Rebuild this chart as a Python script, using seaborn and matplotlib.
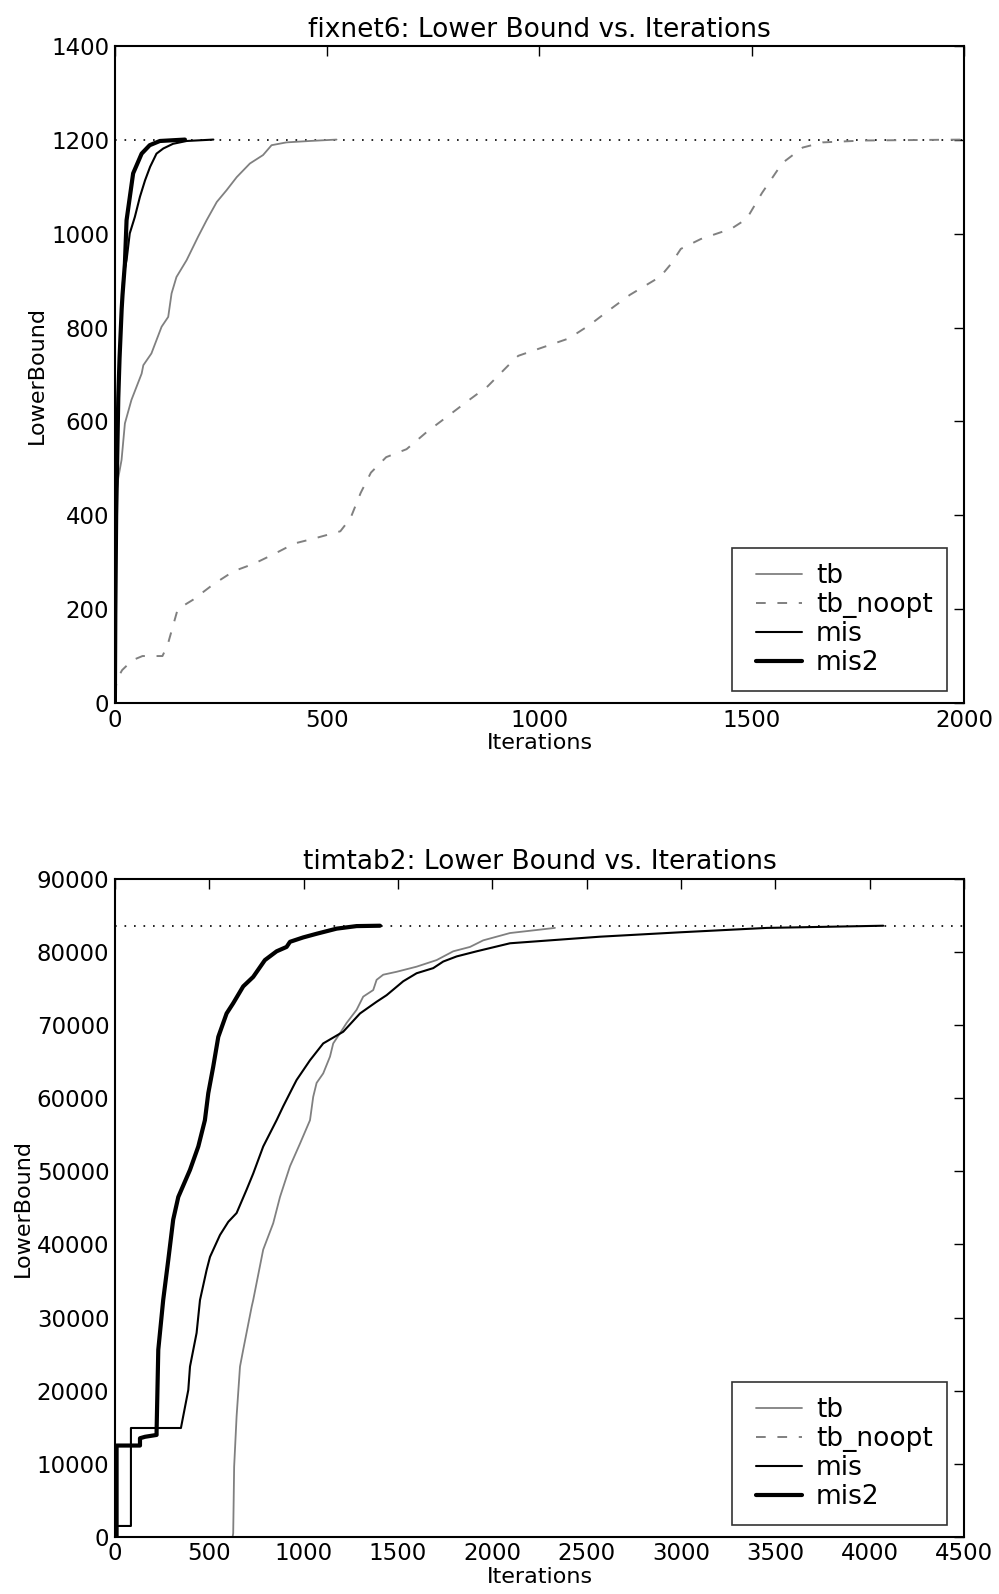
import numpy as np
import pandas as pd
import matplotlib
matplotlib.use("Agg")
import matplotlib.pyplot as plt
from matplotlib.lines import Line2D
from matplotlib.legend_handler import HandlerLine2D
import seaborn as sns

# ---------------- fixnet6 data ----------------
fx_tb_x = [0, 2, 8, 15.7, 23.6, 39, 63, 67, 86, 110, 125.6, 133.5, 145, 169, 196, 216, 240, 263, 287,
           318, 349, 369, 404, 459, 522]
fx_tb_y = [400, 430, 480, 518, 596, 646, 702, 720, 745, 802, 823, 873, 908, 944, 994, 1029, 1068, 1093,
           1121, 1150, 1168, 1189, 1195, 1198, 1201]

fx_noopt_x = [0, 5, 17, 41, 65, 112, 124, 148, 184, 232, 280, 328, 376, 423, 471, 531, 555, 579, 603,
              639, 687, 735, 782, 830, 878, 926, 950, 998, 1069, 1117, 1165, 1213, 1285, 1309, 1333,
              1380, 1452, 1488, 1524, 1572, 1620, 1667, 1763, 2000]
fx_noopt_y = [20, 50, 70, 91, 100, 100, 123, 200, 220, 253, 281, 297, 318, 340, 351, 366, 394, 448, 491,
              524, 541, 578, 610, 643, 675, 719, 740, 755, 777, 805, 838, 870, 909, 935, 968,
              989, 1011, 1032, 1087, 1151, 1184, 1195, 1199, 1201]

fx_mis_x = [0, 1, 3, 5.5, 8, 11, 16, 19.6, 27.5, 35, 47, 59, 71, 83, 98, 114, 137, 169, 232]
fx_mis_y = [0, 190, 400, 525, 650, 735, 840, 908, 944, 1001, 1036, 1079, 1114, 1143, 1171, 1182, 1192,
            1198, 1201]

fx_mis2_x = [0, 1, 3, 5.5, 8, 11, 16, 18, 23.6, 27.5, 43, 63, 82, 106, 165]
fx_mis2_y = [0, 190, 400, 525, 650, 735, 840, 870, 937, 1029, 1129, 1171, 1189, 1198, 1201]

fx_opt = 1200

# ---------------- timtab2 data ----------------
tt_tb_x = [624, 627, 632, 645, 663, 680, 725, 733, 786, 839, 875, 928, 981, 1034, 1051, 1069, 1104,
           1140, 1157, 1193, 1228, 1281, 1316, 1369, 1387, 1422, 1493, 1599, 1705, 1793, 1882, 1952,
           2094, 2332]
tt_tb_y = [0, 500, 9600, 16500, 23300, 25600, 31500, 32400, 39300, 42900, 46500, 50700, 53800, 57000,
           60200, 62100, 63400, 65700, 67500, 68900, 70300, 72100, 73900, 74800, 76200, 76900, 77300,
           78000, 78900, 80100, 80700, 81600, 82600, 83300]

tt_mis_x = [0, 9, 9, 85, 85, 350, 389, 398, 433, 451, 486, 504, 557, 601, 645, 698, 733, 786, 857,
            892, 945, 963, 1034, 1104, 1210, 1299, 1387, 1440, 1528, 1599, 1687, 1740, 1811, 1917,
            2094, 2571, 2995, 3454, 4072]
tt_mis_y = [0, 0, 1500, 1500, 14900, 14900, 20100, 23300, 27900, 32400, 36500, 38300, 41300, 43100,
            44300, 47500, 49700, 53400, 57000, 58900, 61600, 62500, 65200, 67500, 69100, 71600, 73200,
            74100, 76000, 77100, 77800, 78700, 79400, 80100, 81200, 82100, 82700, 83300, 83600]

tt_mis2_x = [0, 9, 9, 133, 133, 160, 221, 221, 230, 256, 283, 309, 336, 398, 442, 477, 495, 521, 548,
             592, 627, 680, 733, 795, 857, 910, 928, 998, 1069, 1175, 1281, 1405]
tt_mis2_y = [0, 0, 12500, 12500, 13500, 13700, 13950, 14500, 25600, 32400, 37900, 43400, 46500, 50200,
             53400, 57000, 60700, 64300, 68400, 71600, 73000, 75300, 76600, 78900, 80100, 80700, 81400,
             82000, 82500, 83200, 83550, 83600]

tt_opt = 83500

titles = ["fixnet6: Lower Bound vs. Iterations", "timtab2: Lower Bound vs. Iterations"]
series_names = ["tb", "tb_noopt", "mis", "mis2"]

sns.set_theme(style="white")
plt.rcParams['font.family'] = ['DejaVu Sans']
plt.rcParams.update({"text.color": "black", "axes.labelcolor": "black",
                     "xtick.color": "black", "ytick.color": "black"})

fig = plt.figure(figsize=(9.99, 15.94), dpi=100)
ax1 = fig.add_axes([0.115, 0.559, 0.85, 0.412])
ax2 = fig.add_axes([0.115, 0.0358, 0.85, 0.4128])

styles = {
    "tb": dict(color="#808080", linestyle="-", linewidth=1.3),
    "tb_noopt": dict(color="#808080", linestyle=(0, (5, 6)), linewidth=1.4),
    "mis": dict(color="black", linestyle="-", linewidth=1.5),
    "mis2": dict(color="black", linestyle="-", linewidth=3.0),
}

def draw(ax, data, opt, xlim, ylim, xticks, yticks, title):
    for name in series_names:
        xs, ys = data[name]
        if xs is None:
            ax.plot([], [], label=name, **styles[name])
            continue
        df = pd.DataFrame({"Iterations": xs, "LowerBound": ys})
        sns.lineplot(data=df, x="Iterations", y="LowerBound", ax=ax, estimator=None,
                     sort=False, label=name, **styles[name])
    ax.axhline(opt, color="black", linestyle=(0, (1, 4.7)), linewidth=1.2, zorder=0)
    ax.set_xlim(*xlim)
    ax.set_ylim(*ylim)
    ax.set_xticks(xticks)
    ax.set_yticks(yticks)
    ax.set_title(title, fontsize=19, pad=7)
    ax.set_xlabel("Iterations", fontsize=16, labelpad=1)
    ax.set_ylabel("LowerBound", fontsize=16, labelpad=3)
    ax.tick_params(direction="in", length=7, width=1, top=True, right=True,
                   labelsize=16.5, pad=4, colors="black")
    for s in ax.spines.values():
        s.set_color("black")
        s.set_linewidth(1.5)
    leg = ax.legend(loc="lower right", fontsize=19, frameon=True, fancybox=False,
                    handlelength=2.1, handletextpad=0.53, borderpad=0.55, labelspacing=0.12,
                    borderaxespad=0, bbox_to_anchor=(0.98, 0.0185),
                    handler_map={Line2D: HandlerLine2D(xpad=0.35)})
    leg.get_frame().set_edgecolor("black")
    leg.get_frame().set_linewidth(1.2)

draw(ax1,
     {"tb": (fx_tb_x, fx_tb_y), "tb_noopt": (fx_noopt_x, fx_noopt_y),
      "mis": (fx_mis_x, fx_mis_y), "mis2": (fx_mis2_x, fx_mis2_y)},
     fx_opt, (0, 2000), (0, 1400), [0, 500, 1000, 1500, 2000],
     [0, 200, 400, 600, 800, 1000, 1200, 1400], titles[0])

draw(ax2,
     {"tb": (tt_tb_x, tt_tb_y), "tb_noopt": (None, None),
      "mis": (tt_mis_x, tt_mis_y), "mis2": (tt_mis2_x, tt_mis2_y)},
     tt_opt, (0, 4500), (0, 90000), list(range(0, 4501, 500)),
     list(range(0, 90001, 10000)), titles[1])

fig.savefig("out.png", dpi=100)
